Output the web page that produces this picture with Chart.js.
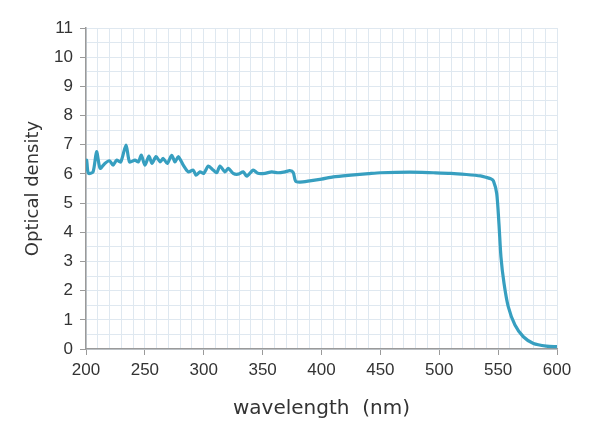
<!DOCTYPE html>
<html>
<head>
<meta charset="utf-8">
<script src="https://cdn.jsdelivr.net/npm/chart.js@4"></script>
<style>
  html, body { margin: 0; padding: 0; background: #fff; }
  #wrap { width: 600px; height: 437px; }
</style>
</head>
<body>
<div id="wrap"><canvas id="odChart"></canvas></div>
<script>
// wavelength in nm
let wavelengths = [200, 200.6, 202, 206, 209, 212, 216, 220, 223, 226, 229.5, 234, 237, 241.6, 244.4, 247, 250, 253.5, 256, 259.5, 263, 265.6, 269, 272.8, 275.6, 278.4, 282.6, 286.9, 291, 293.4, 296.8, 300, 303.9, 308, 311, 313.8, 318, 320.9, 325, 329, 333.6, 336.5, 342, 346, 352, 357.7, 363, 369, 373, 376, 378, 381.7, 390, 400, 410, 425, 440, 450, 475, 495, 510, 523, 535, 540, 544, 546, 548.8, 550.7, 552.4, 555, 558.6, 564.3, 571.4, 580, 591, 600];
// optical density
let od = [6.1, 6.47, 6.02, 6.07, 6.76, 6.19, 6.36, 6.45, 6.30, 6.47, 6.41, 6.99, 6.41, 6.47, 6.41, 6.64, 6.30, 6.61, 6.36, 6.59, 6.41, 6.53, 6.36, 6.64, 6.41, 6.59, 6.30, 6.07, 6.13, 5.96, 6.07, 6.02, 6.27, 6.13, 6.04, 6.27, 6.07, 6.19, 6.02, 5.99, 6.07, 5.92, 6.13, 6.02, 6.02, 6.07, 6.04, 6.07, 6.11, 6.05, 5.75, 5.72, 5.76, 5.82, 5.90, 5.96, 6.01, 6.04, 6.06, 6.04, 6.02, 5.98, 5.93, 5.88, 5.83, 5.76, 5.33, 4.30, 3.16, 2.25, 1.45, 0.82, 0.42, 0.19, 0.10, 0.08];

let yMax = 11;
let xMin = 200, xMax = 600;

let points = wavelengths.map((w, i) => ({ x: w, y: od[i] }));

let ctx = document.getElementById("odChart").getContext("2d");

let odChart = new Chart(ctx, {
    type: "line",
    data: {
        datasets: [{
            data: points,
            borderColor: "#379fc0",
            borderWidth: 3.2,
            pointRadius: 0,
            tension: 0.25,
            fill: false
        }]
    },
    options: {
        responsive: true,
        maintainAspectRatio: false,
        animation: false,
        layout: { padding: { left: 0, right: 43, top: 28, bottom: 0 } },
        plugins: {
            legend: { display: false },
            tooltip: { enabled: false }
        },
        scales: {
            x: {
                type: "linear",
                min: xMin,
                max: xMax,
                afterFit: (s) => { s.height = 88; },
                border: { color: "#9a9a9a", width: 1.5 },
                grid: {
                    color: "#dfe8f0",
                    tickLength: 6,
                    tickColor: (c) => c.tick && c.tick.value % 50 === 0 ? "#9a9a9a" : "rgba(0,0,0,0)"
                },
                ticks: {
                    stepSize: 10,
                    autoSkip: false,
                    maxRotation: 0,
                    padding: 5,
                    color: "#333",
                    font: { family: "Liberation Sans", size: 17 },
                    callback: (v) => v % 50 === 0 ? v : ""
                },
                title: {
                    display: true,
                    text: "wavelength  (nm)",
                    color: "#333",
                    font: { family: "DejaVu Sans", size: 20 },
                    padding: { top: 16, bottom: 16 }
                }
            },
            y: {
                min: 0,
                max: yMax,
                afterFit: (s) => { s.width = 86; },
                border: { color: "#9a9a9a", width: 1.5 },
                grid: {
                    color: "#dfe8f0",
                    tickLength: 6,
                    tickColor: (c) => c.tick && c.tick.value % 1 === 0 ? "#9a9a9a" : "rgba(0,0,0,0)"
                },
                ticks: {
                    stepSize: 0.5,
                    autoSkip: false,
                    padding: 7,
                    color: "#333",
                    font: { family: "Liberation Sans", size: 17 },
                    callback: (v) => v % 1 === 0 ? v : ""
                },
                title: {
                    display: true,
                    text: "Optical density",
                    color: "#333",
                    font: { family: "DejaVu Sans", size: 18 },
                    padding: { top: 23, bottom: 23 }
                }
            }
        }
    }
});
</script>
</body>
</html>
